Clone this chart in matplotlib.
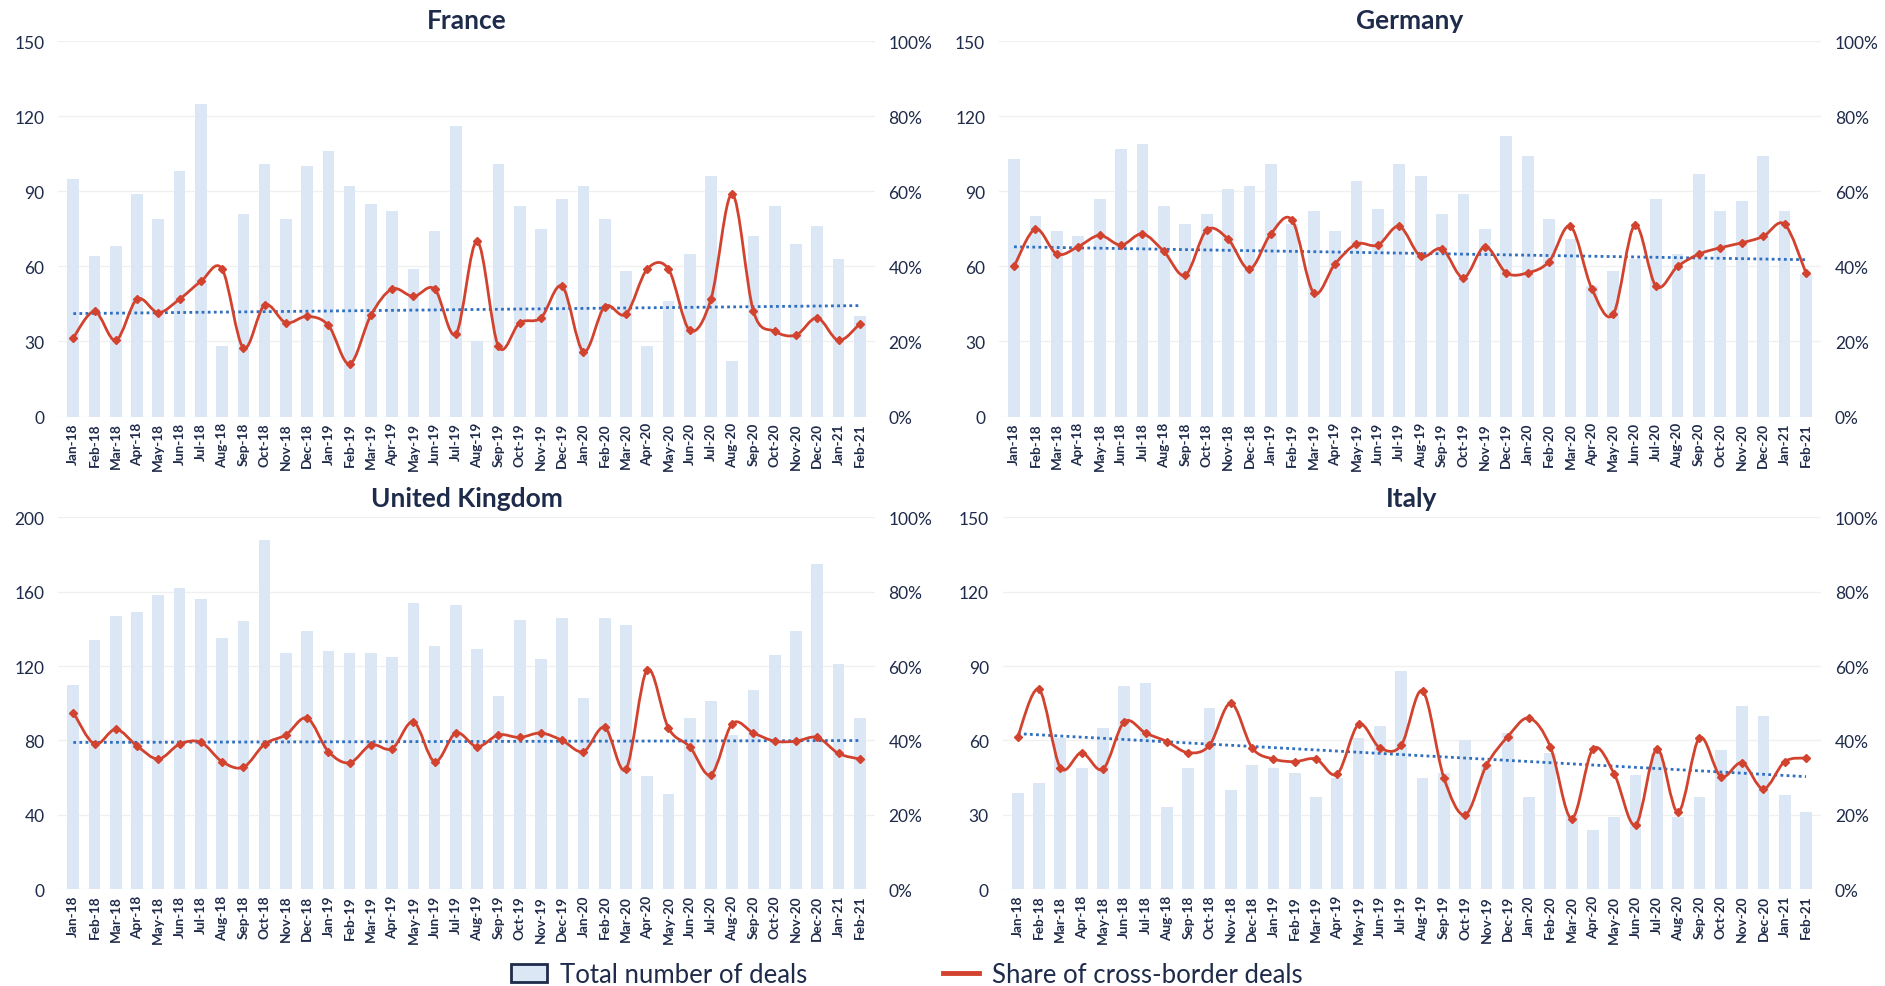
import matplotlib.pyplot as plt
import numpy as np
from matplotlib.path import Path
from matplotlib.patches import PathPatch, Patch
from matplotlib.lines import Line2D
from matplotlib.ticker import PercentFormatter

plt.rcParams['font.family'] = ['Lato', 'DejaVu Sans']

months = ["Jan-18", "Feb-18", "Mar-18", "Apr-18", "May-18", "Jun-18", "Jul-18", "Aug-18",
          "Sep-18", "Oct-18", "Nov-18", "Dec-18", "Jan-19", "Feb-19", "Mar-19", "Apr-19",
          "May-19", "Jun-19", "Jul-19", "Aug-19", "Sep-19", "Oct-19", "Nov-19", "Dec-19",
          "Jan-20", "Feb-20", "Mar-20", "Apr-20", "May-20", "Jun-20", "Jul-20", "Aug-20",
          "Sep-20", "Oct-20", "Nov-20", "Dec-20", "Jan-21", "Feb-21"]

france_deals = [95, 64, 68, 89, 79, 98, 125, 28, 81, 101, 79, 100, 106, 92, 85, 82, 59, 74, 116,
                30, 101, 84, 75, 87, 92, 79, 58, 28, 46, 65, 96, 22, 72, 84, 69, 76, 63, 40]
france_share = [21.0, 28.0, 20.3, 31.3, 27.7, 31.3, 36.0, 39.3, 18.3, 29.7, 25.0, 26.7, 24.3,
                14.0, 27.0, 34.0, 32.0, 34.0, 22.0, 46.7, 18.7, 25.0, 26.3, 34.7, 17.3, 29.3,
                27.3, 39.3, 39.3, 23.0, 31.3, 59.3, 28.0, 22.7, 21.7, 26.3, 20.3, 24.7]

germany_deals = [103, 80, 74, 72, 87, 107, 109, 84, 77, 81, 91, 92, 101, 77, 82, 74, 94, 83, 101,
                 96, 81, 89, 75, 112, 104, 79, 71, 52, 58, 63, 87, 65, 97, 82, 86, 104, 82, 57]
germany_share = [40.0, 50.0, 43.3, 45.3, 48.3, 45.7, 48.7, 44.0, 37.7, 49.7, 47.3, 39.3, 48.7,
                 52.3, 33.0, 40.7, 46.0, 45.7, 50.7, 42.7, 44.7, 37.0, 45.3, 38.3, 38.3, 41.3,
                 50.7, 34.0, 27.3, 51.0, 34.7, 40.0, 43.3, 45.0, 46.3, 48.0, 51.3, 38.3]

uk_deals = [110, 134, 147, 149, 158, 162, 156, 135, 144, 188, 127, 139, 128, 127, 127, 125, 154,
            131, 153, 129, 104, 145, 124, 146, 103, 146, 142, 61, 51, 92, 101, 83, 107, 126, 139,
            175, 121, 92]
uk_share = [47.5, 39.0, 43.0, 38.5, 35.0, 39.0, 39.5, 34.3, 32.8, 39.0, 41.5, 46.0, 37.0, 34.0,
            38.8, 37.8, 45.0, 34.3, 42.0, 38.3, 41.5, 40.8, 42.0, 40.0, 37.0, 43.5, 32.3, 59.0,
            43.3, 38.3, 30.8, 44.5, 42.0, 39.8, 39.8, 40.8, 36.5, 35.0]

italy_deals = [39, 43, 61, 49, 65, 82, 83, 33, 49, 73, 40, 50, 49, 47, 37, 45, 61, 66, 88, 45,
               47, 60, 50, 63, 37, 55, 30, 24, 29, 46, 55, 29, 37, 56, 74, 70, 38, 31]
italy_share = [41.0, 53.7, 32.7, 36.7, 32.3, 45.0, 42.0, 39.7, 36.7, 38.7, 50.0, 38.0, 35.0,
               34.3, 35.0, 31.0, 44.3, 38.0, 38.7, 53.3, 30.0, 20.0, 33.3, 41.0, 46.0, 38.3,
               19.0, 37.7, 31.0, 17.3, 37.7, 20.7, 40.7, 30.3, 34.0, 27.0, 34.3, 35.3]

text_col = "#1f2b4a"
bar_col = "#dce7f5"
line_col = "#d2432f"
trend_col = "#2f6fbf"


def smooth_path(x, y):
    # Catmull-Rom style bezier through the points (like Excel's smoothed line)
    verts = [(x[0], y[0])]
    codes = [Path.MOVETO]
    n = len(x)
    for i in range(n - 1):
        x0, y0 = (x[i - 1], y[i - 1]) if i > 0 else (x[i], y[i])
        x3, y3 = (x[i + 2], y[i + 2]) if i + 2 < n else (x[i + 1], y[i + 1])
        x1, y1 = x[i], y[i]
        x2, y2 = x[i + 1], y[i + 1]
        c1 = (x1 + (x2 - x0) / 6, y1 + (y2 - y0) / 6)
        c2 = (x2 - (x3 - x1) / 6, y2 - (y3 - y1) / 6)
        verts += [c1, c2, (x2, y2)]
        codes += [Path.CURVE4] * 3
    return Path(verts, codes)


def draw_panel(rect, title, deals, share, ymax, ystep, tpad):
    ax = fig.add_axes(rect)
    x = np.arange(len(months))
    ax.bar(x, deals, width=0.55, color=bar_col, zorder=2)
    ax.set_xlim(-0.7, len(months) - 0.3)
    ax.set_ylim(0, ymax)
    ax.set_yticks(np.arange(0, ymax + 1, ystep))
    ax.set_xticks(x)
    ax.set_xticklabels(months, rotation=90, fontsize=9.8, fontweight="bold", color=text_col)
    ax.tick_params(axis="y", labelsize=12.5, colors=text_col, length=0, pad=10)
    ax.tick_params(axis="x", length=0, pad=4)
    ax.yaxis.grid(True, color="#f0f0f0", linewidth=1, zorder=0)
    ax.set_axisbelow(True)
    for s in ax.spines.values():
        s.set_visible(False)

    ax2 = ax.twinx()
    ax2.set_ylim(0, 100)
    ax2.set_yticks(np.arange(0, 101, 20))
    ax2.yaxis.set_major_formatter(PercentFormatter(decimals=0))
    ax2.tick_params(axis="y", labelsize=12.5, colors=text_col, length=0, pad=10)
    for s in ax2.spines.values():
        s.set_visible(False)

    sh = np.array(share)
    k, b = np.polyfit(x, sh, 1)
    ax2.plot(x, k * x + b, linestyle=(0, (1, 1.2)), color=trend_col, linewidth=2, zorder=3)
    ax2.add_patch(PathPatch(smooth_path(x, sh), fill=False, edgecolor=line_col,
                            linewidth=2, zorder=4))
    ax2.plot(x, sh, linestyle="none", marker="D", markersize=4, color=line_col, zorder=5)

    ax.set_title(title, fontsize=19, fontweight="bold", color=text_col, pad=tpad)
    return ax


fig = plt.figure(figsize=(18.85, 9.87), dpi=100)

draw_panel([0.031, 0.577, 0.433, 0.380], "France", france_deals, france_share, 150, 30, 10)
draw_panel([0.530, 0.577, 0.436, 0.380], "Germany", germany_deals, germany_share, 150, 30, 10)
draw_panel([0.031, 0.098, 0.433, 0.377], "United Kingdom", uk_deals, uk_share, 200, 40, 8)
draw_panel([0.532, 0.098, 0.434, 0.377], "Italy", italy_deals, italy_share, 150, 30, 8)

handles = [Patch(facecolor=bar_col, edgecolor=text_col, linewidth=2),
           Line2D([0], [0], color=line_col, linewidth=3.5)]
fig.legend(handles, ["Total number of deals", "Share of cross-border deals"],
           loc="center", bbox_to_anchor=(0.481, 0.012), ncol=2, frameon=False,
           fontsize=18.5, columnspacing=5.3, handlelength=1.4, handletextpad=0.5,
           labelcolor=text_col)

fig.savefig("out.png", dpi=100)
